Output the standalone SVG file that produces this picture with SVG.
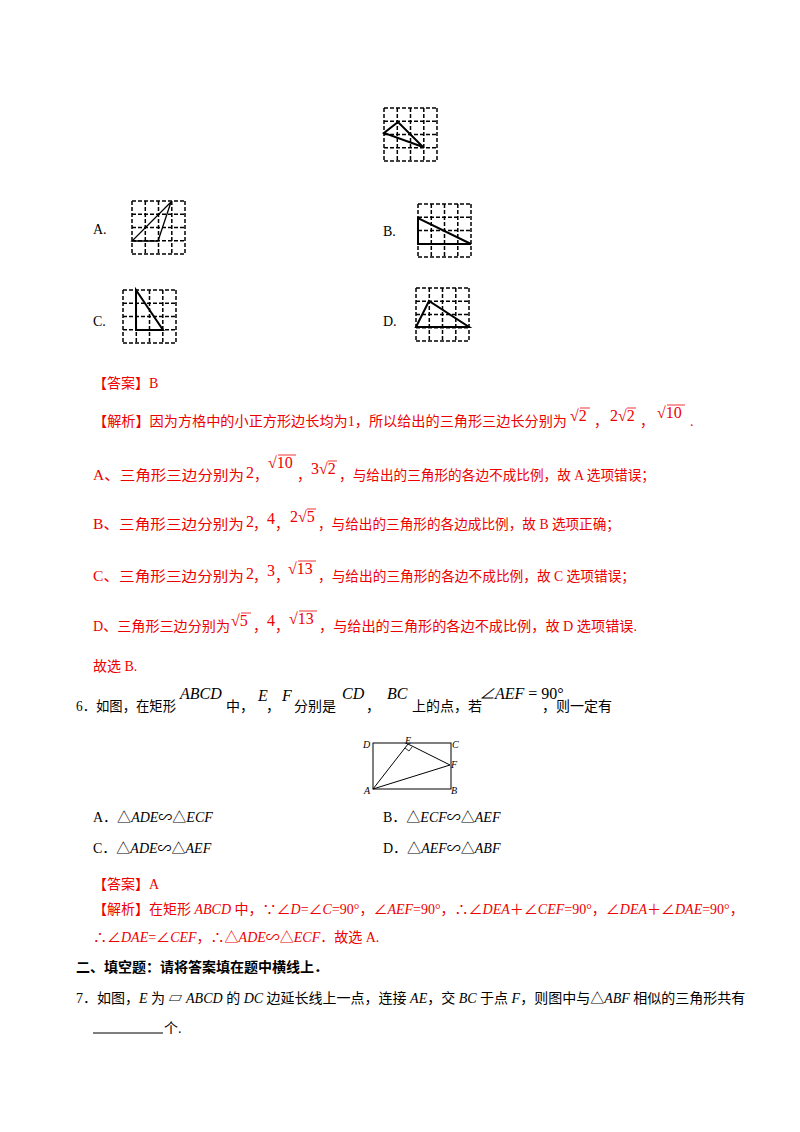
<svg xmlns="http://www.w3.org/2000/svg" width="800" height="1132" viewBox="0 0 800 1132">
<style>
text{font-family:"Liberation Serif","Noto Sans CJK SC",serif;font-size:14px;fill:#000}
.r{fill:#e00}
.i{font-style:italic}
.m{font-size:16px}
.g{stroke:#000;stroke-width:1.5;stroke-dasharray:4,2;fill:none}
.t{stroke:#000;stroke-width:2;fill:none}
.ro{stroke:#e00;stroke-width:0.8}
</style>
<rect width="800" height="1132" fill="#fff"/>
<defs>
<g id="grid"><path class="g" d="M0 0H53M0 13.3H53M0 26.5H53M0 39.8H53M0 53H53M0 0V53M13.3 0V53M26.5 0V53M39.8 0V53M53 0V53"/></g>
</defs>
<g id="top"><use href="#grid" x="384" y="108"/><path class="t" d="M398 122L384 133L423 147Z"/></g>
<g id="optA"><text x="93" y="234">A.</text><use href="#grid" x="132" y="201"/><path class="t" style="stroke-width:1.3" d="M132 241H158L171 202Z"/></g>
<g id="optB"><text x="383" y="236">B.</text><use href="#grid" x="418" y="204"/><path class="t" d="M418 218V244H471Z"/></g>
<g id="optC"><text x="93" y="326">C.</text><use href="#grid" x="123" y="290"/><path class="t" d="M136 290V330H163Z"/></g>
<g id="optD"><text x="383" y="326">D.</text><use href="#grid" x="416" y="288"/><path class="t" d="M416 327L429 301L469 327Z"/></g>

<text class="r" x="93" y="388">【答案】B</text>
<g id="l1">
<text class="r" x="93" y="426" textLength="474" lengthAdjust="spacingAndGlyphs">【解析】因为方格中的小正方形边长均为1，所以给出的三角形三边长分别为</text>
<text class="r m" x="570" y="421">√2</text><line class="ro" x1="580" y1="408" x2="590" y2="408"/>
<text class="r" x="594" y="426">，</text>
<text class="r m" x="610" y="421">2√2</text><line class="ro" x1="627" y1="408" x2="636" y2="408"/>
<text class="r" x="640" y="426">，</text>
<text class="r m" x="657" y="418">√10</text><line class="ro" x1="667" y1="405" x2="685" y2="405"/>
<text class="r" x="690" y="426">.</text>
</g>
<g id="l2">
<text class="r" x="93" y="480" textLength="151" lengthAdjust="spacingAndGlyphs">A、三角形三边分别为</text>
<text class="r m" x="246" y="478">2</text><text class="r" x="254" y="480">，</text>
<text class="r m" x="268" y="468">√10</text><line class="ro" x1="278" y1="455" x2="296" y2="455"/>
<text class="r" x="297" y="480">，</text>
<text class="r m" x="311" y="474">3√2</text><line class="ro" x1="328" y1="461" x2="337" y2="461"/>
<text class="r" x="339" y="480" textLength="316" lengthAdjust="spacingAndGlyphs">，与给出的三角形的各边不成比例，故 A 选项错误；</text>
</g>
<g id="l3">
<text class="r" x="93" y="529" textLength="151" lengthAdjust="spacingAndGlyphs">B、三角形三边分别为</text>
<text class="r m" x="246" y="527">2</text><text class="r" x="253" y="529">，</text>
<text class="r m" x="267" y="524">4</text><text class="r" x="275" y="529">，</text>
<text class="r m" x="290" y="522">2√5</text><line class="ro" x1="307" y1="509" x2="316" y2="509"/>
<text class="r" x="318" y="529" textLength="302" lengthAdjust="spacingAndGlyphs">，与给出的三角形的各边成比例，故 B 选项正确；</text>
</g>
<g id="l4">
<text class="r" x="93" y="581" textLength="151" lengthAdjust="spacingAndGlyphs">C、三角形三边分别为</text>
<text class="r m" x="246" y="579">2</text><text class="r" x="253" y="581">，</text>
<text class="r m" x="267" y="576">3</text><text class="r" x="275" y="581">，</text>
<text class="r m" x="288" y="574">√13</text><line class="ro" x1="298" y1="561" x2="316" y2="561"/>
<text class="r" x="318" y="581" textLength="317" lengthAdjust="spacingAndGlyphs">，与给出的三角形的各边不成比例，故 C 选项错误；</text>
</g>
<g id="l5">
<text class="r" x="93" y="631" textLength="137" lengthAdjust="spacingAndGlyphs">D、三角形三边分别为</text>
<text class="r m" x="231" y="626">√5</text><line class="ro" x1="241" y1="613" x2="251" y2="613"/>
<text class="r" x="253" y="631">，</text>
<text class="r m" x="267" y="626">4</text><text class="r" x="275" y="631">，</text>
<text class="r m" x="289" y="624">√13</text><line class="ro" x1="299" y1="611" x2="317" y2="611"/>
<text class="r" x="319" y="631" textLength="318" lengthAdjust="spacingAndGlyphs">，与给出的三角形的各边不成比例，故 D 选项错误.</text>
</g>
<text class="r" x="93" y="671">故选 B.</text>

<g id="q6">
<text x="76" y="711" textLength="100" lengthAdjust="spacingAndGlyphs">6．如图，在矩形</text>
<text class="i m" x="180" y="699">ABCD</text>
<text x="226" y="711">中，</text>
<text class="i m" x="258" y="701">E</text><text x="266" y="711">，</text>
<text class="i m" x="282" y="701">F</text>
<text x="294" y="711">分别是</text>
<text class="i m" x="342" y="699">CD</text><text x="366" y="711">，</text>
<text class="i m" x="387" y="699">BC</text>
<text x="412" y="711">上的点，若</text>
<text class="m" x="479" y="699"><tspan class="i">∠AEF</tspan> = 90°</text>
<text x="542" y="711">，则一定有</text>
</g>
<g id="fig6">
<rect x="373" y="743" width="78" height="46" fill="none" stroke="#000" stroke-width="1"/>
<path d="M373 789L408 744L450 765Z" fill="none" stroke="#000" stroke-width="1"/>
<path d="M405 748L409 751L412 747" fill="none" stroke="#000" stroke-width="0.8"/>
<g class="i">
<text x="363" y="748" style="font-size:10px">D</text>
<text x="405" y="744" style="font-size:10px">E</text>
<text x="452" y="748" style="font-size:10px">C</text>
<text x="451" y="768" style="font-size:10px">F</text>
<text x="364" y="794" style="font-size:10px">A</text>
<text x="451" y="794" style="font-size:10px">B</text>
</g>
</g>
<text x="93" y="822">A．△<tspan class="i">ADE</tspan>∽△<tspan class="i">ECF</tspan></text>
<text x="383" y="822">B．△<tspan class="i">ECF</tspan>∽△<tspan class="i">AEF</tspan></text>
<text x="93" y="853">C．△<tspan class="i">ADE</tspan>∽△<tspan class="i">AEF</tspan></text>
<text x="383" y="853">D．△<tspan class="i">AEF</tspan>∽△<tspan class="i">ABF</tspan></text>
<text class="r" x="93" y="889">【答案】A</text>
<text class="r" x="93" y="914">【解析】在矩形 <tspan class="i">ABCD</tspan> 中，∵∠<tspan class="i">D</tspan>=∠<tspan class="i">C</tspan>=90°，∠<tspan class="i">AEF</tspan>=90°，∴∠<tspan class="i">DEA</tspan>＋∠<tspan class="i">CEF</tspan>=90°，∠<tspan class="i">DEA</tspan>＋∠<tspan class="i">DAE</tspan>=90°，</text>
<text class="r" x="93" y="942">∴∠<tspan class="i">DAE</tspan>=∠<tspan class="i">CEF</tspan>，∴△<tspan class="i">ADE</tspan>∽△<tspan class="i">ECF</tspan>．故选 A.</text>
<text x="76" y="972" font-weight="bold">二、填空题：请将答案填在题中横线上．</text>
<text x="76" y="1003">7．如图，<tspan class="i">E</tspan> 为 ▱ <tspan class="i">ABCD</tspan> 的 <tspan class="i">DC</tspan> 边延长线上一点，连接 <tspan class="i">AE</tspan>，交 <tspan class="i">BC</tspan> 于点 <tspan class="i">F</tspan>，则图中与△<tspan class="i">ABF</tspan> 相似的三角形共有</text>
<line x1="93" y1="1033" x2="163" y2="1033" stroke="#000" stroke-width="1"/>
<text x="164" y="1033">个.</text>
</svg>
